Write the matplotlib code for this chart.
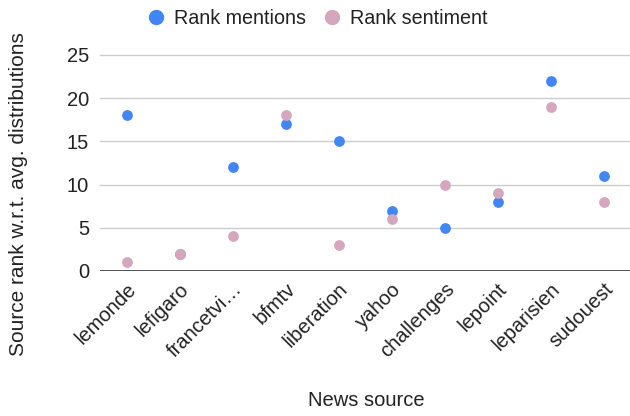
import matplotlib
matplotlib.use("Agg")
import matplotlib.pyplot as plt
from matplotlib.lines import Line2D

sources = ["lemonde", "lefigaro", "francetvi…", "bfmtv", "liberation", "yahoo",
           "challenges", "lepoint", "leparisien", "sudouest"]
rank_mentions = [18, 2, 12, 17, 15, 7, 5, 8, 22, 11]
rank_sentiment = [1, 2, 4, 18, 3, 6, 10, 9, 19, 8]
y_ticks = [0, 5, 10, 15, 20, 25]

plt.rcParams['font.family'] = ['Liberation Sans', 'DejaVu Sans']

blue = "#4285F4"
pink = "#D5A6BD"
txt = "#222222"

fig = plt.figure(figsize=(6.3, 4.16), dpi=100)
ax = fig.add_axes([100/630, 1 - 271/416, 530/630, (271 - 55)/416])

x = list(range(len(sources)))
ax.scatter(x, rank_mentions, s=60, color=blue, zorder=3, clip_on=False, linewidths=0)
ax.scatter(x, rank_sentiment, s=60, color=pink, zorder=3, clip_on=False, linewidths=0)

ax.set_xlim(-0.5, len(sources) - 0.5)
ax.set_ylim(0, 25)
ax.set_yticks(y_ticks)
for t in y_ticks[1:]:
    ax.axhline(t, color="#cccccc", lw=1, zorder=1, clip_on=False)
ax.axhline(0, color="#333333", lw=1.2, zorder=2)

for s in ax.spines.values():
    s.set_visible(False)
ax.tick_params(axis='both', length=0, labelsize=14.5, colors=txt)
ax.tick_params(axis='y', pad=8)
ax.set_xticks(x)
ax.set_xticklabels(sources, rotation=45, ha='right', rotation_mode='anchor')
ax.tick_params(axis='x', pad=6)

fig.text(366/630, 1 - 400/416, "News source", ha='center', va='center',
         fontsize=14.5, color=txt)
fig.text(19/630, 1 - 194/416, "Source rank w.r.t. avg. distributions", ha='center',
         va='center', rotation=90, fontsize=15, color=txt)

handles = [Line2D([], [], marker='o', linestyle='', color=blue, markersize=10),
           Line2D([], [], marker='o', linestyle='', color=pink, markersize=10)]
fig.legend(handles, ["Rank mentions", "Rank sentiment"], loc='center',
           bbox_to_anchor=(317/630, 1 - 18/416), ncol=2, frameon=False,
           fontsize=14.2, handletextpad=0.4, columnspacing=0.85, handlelength=1.0,
           labelcolor=txt)

fig.savefig("out.png", dpi=100)
